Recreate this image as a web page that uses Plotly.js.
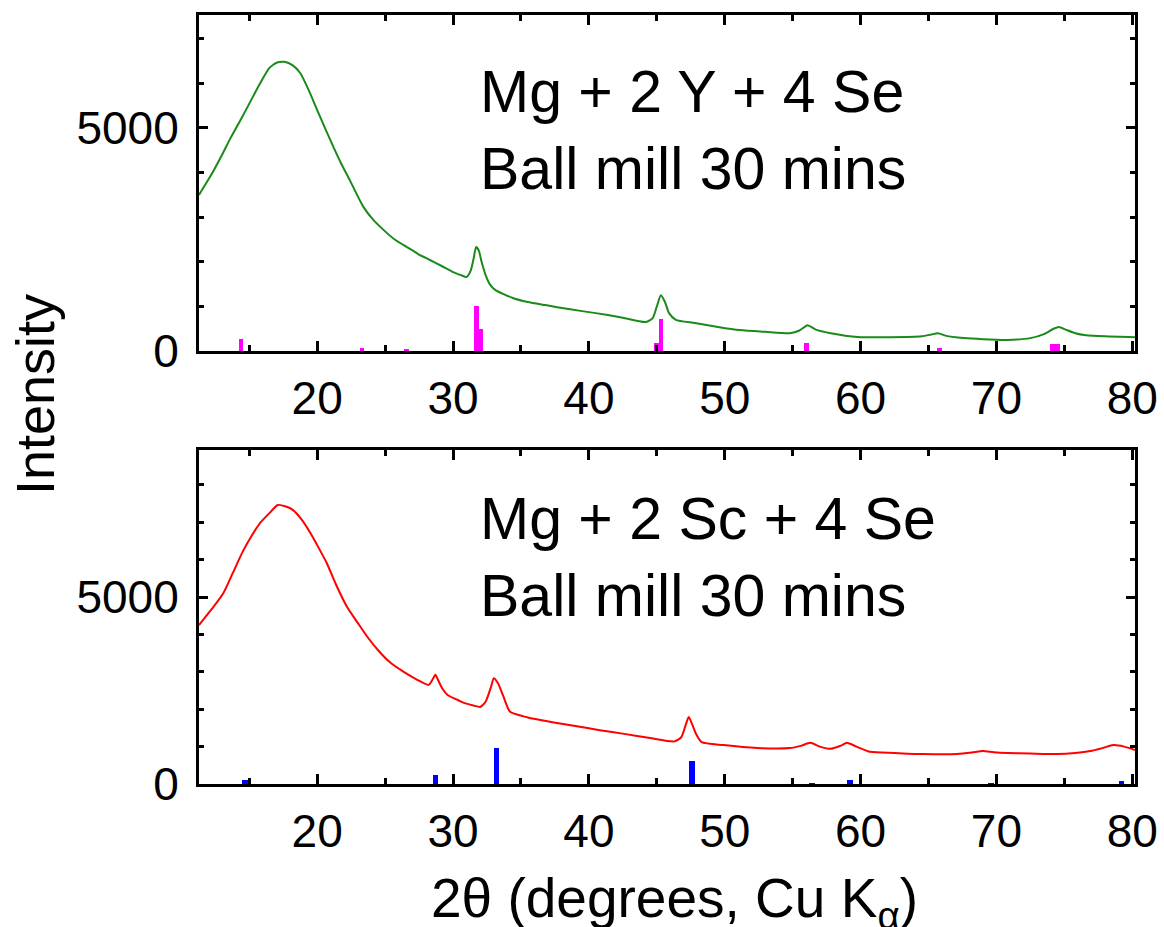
<!DOCTYPE html>
<html>
<head>
<meta charset="utf-8">
<script src="https://cdn.plot.ly/plotly-3.0.1.min.js"></script>
<style>html,body{margin:0;padding:0;background:#fff;}#plot{width:1164px;height:927px;}</style>
</head>
<body>
<div id="plot"></div>
<script>
// Top panel: Mg + 2 Y + 4 Se, ball milled 30 min (2theta, intensity)
const tthY = [11.3,12.2,13.0,13.6,14.4,15.1,15.8,16.5,17.1,17.6,18.2,18.75,19.4,20.0,20.6,21.2,21.8,22.4,23.4,24.1,24.9,25.7,26.6,27.4,28.3,29.2,30.0,30.6,31.0,31.3,31.5,31.7,31.9,32.1,32.4,32.7,33.1,34.4,35.5,36.8,38.5,40.5,42.3,44.2,44.7,45.0,45.3,45.6,45.9,46.4,47.8,49.5,51.1,53.0,54.8,55.5,56.1,56.7,57.8,59.8,62.2,64.5,65.2,65.7,66.3,67.6,69.0,70.8,72.5,73.5,74.2,74.6,75.1,75.8,76.6,78.0,80.2];
const intY = [3500,3950,4400,4760,5200,5600,6000,6350,6470,6480,6400,6230,5830,5400,4980,4570,4180,3830,3230,2950,2710,2500,2330,2180,2040,1900,1770,1700,1660,1800,2050,2330,2250,2000,1700,1500,1370,1190,1100,1030,940,850,760,650,740,1000,1250,1100,850,700,630,540,470,430,400,460,580,480,400,315,310,330,370,400,340,290,265,250,290,380,500,540,480,400,355,330,310];
// Reference pattern (magenta sticks)
const refYpos = [14.4,23.3,26.6,31.7,32.0,45.0,45.3,56.0,65.8,74.1,74.5];
const refYint = [270,60,50,1000,500,180,720,180,60,150,150];

// Bottom panel: Mg + 2 Sc + 4 Se, ball milled 30 min
const tthSc = [11.3,12.2,13.1,13.8,14.5,15.2,15.8,16.5,17.1,17.7,18.2,18.9,19.5,20.1,20.7,21.4,22.2,23.0,23.7,24.5,25.4,26.4,27.4,28.2,28.5,28.7,28.9,29.2,29.6,30.2,30.8,31.5,32.0,32.4,32.8,33.0,33.3,33.7,34.2,35.5,37.2,39.0,40.8,42.6,44.5,46.3,46.8,47.1,47.35,47.6,47.9,48.3,49.9,52.4,54.8,55.6,56.3,57.0,57.8,58.5,59.0,59.7,60.7,62.5,64.6,67.1,68.2,69.0,69.8,70.8,72.5,74.5,75.8,76.9,77.8,78.6,79.4,80.2];
const intSc = [4250,4660,5110,5650,6200,6650,6980,7250,7460,7420,7330,7050,6710,6320,5910,5320,4730,4300,3930,3570,3240,2990,2780,2650,2800,2920,2780,2560,2380,2270,2170,2100,2060,2200,2600,2830,2700,2350,1930,1780,1660,1550,1440,1340,1230,1140,1250,1550,1790,1600,1330,1120,1040,960,960,1020,1100,1000,940,1020,1100,1000,860,830,800,800,840,880,850,830,815,800,830,880,960,1040,1000,910];
// Reference pattern (blue sticks)
const refScPos = [14.7,28.7,33.2,47.6,56.4,59.2,69.6,79.2];
const refScInt = [100,250,950,620,40,110,40,90];

const xTickVals = [20,30,40,50,60,70,80];
const xTickText = ['20','30','40','50','60','70','80'];
const yTickVals = [0,5000];
const yTickText = ['0','5000'];

const FONT = '"Liberation Sans", Arial, Helvetica, sans-serif';

const traces = [
  {x: refYpos, y: refYint, type: 'bar', width: 0.35, marker: {color: '#ff00ff', line: {width: 0}}, xaxis: 'x', yaxis: 'y', hoverinfo: 'x+y'},
  {x: tthY, y: intY, type: 'scatter', mode: 'lines', line: {color: '#1a8a1a', width: 2, shape: 'spline', smoothing: 0.6}, xaxis: 'x', yaxis: 'y'},
  {x: refScPos, y: refScInt, type: 'bar', width: 0.42, marker: {color: '#0000ff', line: {width: 0}}, xaxis: 'x2', yaxis: 'y2', hoverinfo: 'x+y'},
  {x: tthSc, y: intSc, type: 'scatter', mode: 'lines', line: {color: '#ff0000', width: 2, shape: 'spline', smoothing: 0.6}, xaxis: 'x2', yaxis: 'y2'}
];

function xax(anchor) {
  return {
    anchor: anchor, domain: [0, 1], range: [11.3, 80.2],
    tickmode: 'array', tickvals: xTickVals, ticktext: xTickText,
    ticks: 'inside', ticklen: 10, tickwidth: 3, tickcolor: '#000',
    minor: {dtick: 5, tick0: 0, ticks: 'inside', ticklen: 6, tickwidth: 3, tickcolor: '#000'},
    showline: true, linewidth: 3, linecolor: '#000', mirror: 'ticks',
    showgrid: false, zeroline: false,
    tickfont: {family: FONT, size: 46, color: '#000'},
    ticklabelstandoff: 5
  };
}
function yax(anchor, dom, rng) {
  return {
    anchor: anchor, domain: dom, range: rng,
    tickmode: 'array', tickvals: yTickVals, ticktext: yTickText,
    ticks: 'inside', ticklen: 9, tickwidth: 3, tickcolor: '#000',
    minor: {dtick: 1000, tick0: 0, ticks: 'inside', ticklen: 5, tickwidth: 3, tickcolor: '#000'},
    showline: true, linewidth: 3, linecolor: '#000', mirror: 'ticks',
    showgrid: false, zeroline: false,
    tickfont: {family: FONT, size: 46, color: '#000'},
    ticklabelstandoff: 8
  };
}

const layout = {
  width: 1164, height: 927,
  margin: {l: 199, r: 29, t: 15, b: 143},
  paper_bgcolor: '#fff', plot_bgcolor: '#fff',
  showlegend: false, bargap: 0,
  font: {family: FONT, color: '#000'},
  xaxis: xax('y'),
  yaxis: yax('x', [0.563, 1], [0, 7530]),
  xaxis2: xax('y2'),
  yaxis2: yax('x2', [0, 0.4343], [0, 8930]),
  annotations: [
    {text: 'Intensity', xref: 'paper', yref: 'paper', x: -0.175, y: 0.506, xanchor: 'center', yanchor: 'middle', textangle: -90, showarrow: false, font: {family: FONT, size: 54, color: '#000'}},
    {text: '2θ (degrees, Cu K<sub>α</sub>)', xref: 'paper', yref: 'paper', x: 0.508, y: -0.153, xanchor: 'center', yanchor: 'middle', showarrow: false, font: {family: FONT, size: 55, color: '#000'}},
    {text: 'Mg + 2 Y + 4 Se<br>Ball mill 30 mins', xref: 'paper', yref: 'paper', x: 0.298, y: 0.946, xanchor: 'left', yanchor: 'top', align: 'left', showarrow: false, font: {family: FONT, size: 59, color: '#000'}},
    {text: 'Mg + 2 Sc + 4 Se<br>Ball mill 30 mins', xref: 'paper', yref: 'paper', x: 0.298, y: 0.39, xanchor: 'left', yanchor: 'top', align: 'left', showarrow: false, font: {family: FONT, size: 59, color: '#000'}}
  ]
};

Plotly.newPlot('plot', traces, layout, {displayModeBar: false, staticPlot: true});
</script>
</body>
</html>
